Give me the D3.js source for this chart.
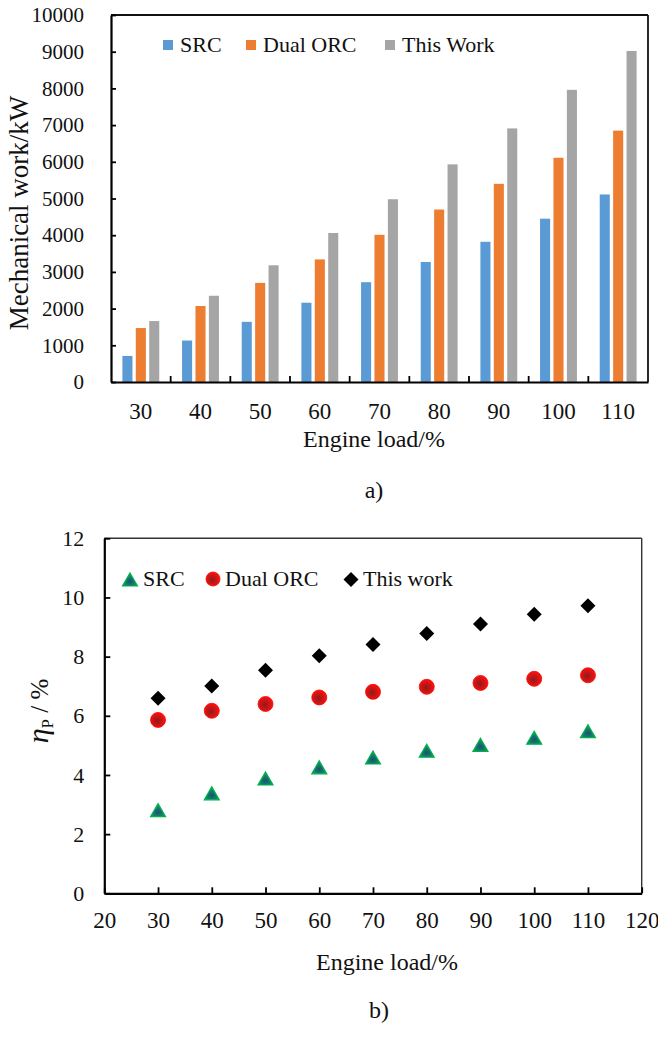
<!DOCTYPE html>
<html>
<head>
<meta charset="utf-8">
<script src="https://cdn.jsdelivr.net/npm/d3@7"></script>
<style>
  html, body { margin: 0; padding: 0; background: #fff; }
  svg { display: block; }
  svg text { font-family: "Liberation Serif", "Times New Roman", Times, serif !important; fill: #111; }
</style>
</head>
<body>
<svg id="chart" width="658" height="1040" font-family="Liberation Serif, serif"></svg>
<script>
// ---------- Data ----------
const loads = [30, 40, 50, 60, 70, 80, 90, 100, 110];
const seriesNames = ["SRC", "Dual ORC", "This Work"];
const srcWork  = [710, 1130, 1640, 2160, 2720, 3270, 3820, 4450, 5110];
const dualWork = [1470, 2070, 2700, 3340, 4010, 4700, 5400, 6110, 6850];
const thisWork = [1660, 2350, 3180, 4060, 4980, 5930, 6910, 7960, 9020];
const workTicks = [0, 1000, 2000, 3000, 4000, 5000, 6000, 7000, 8000, 9000, 10000];

const effNames = ["SRC", "Dual ORC", "This work"];
const srcEff  = [2.81, 3.38, 3.88, 4.26, 4.59, 4.82, 5.02, 5.26, 5.48];
const dualEff = [5.86, 6.17, 6.40, 6.62, 6.81, 6.98, 7.11, 7.25, 7.37];
const thisEff = [6.59, 7.01, 7.54, 8.03, 8.41, 8.78, 9.10, 9.43, 9.72];
const effTicks = [0, 2, 4, 6, 8, 10, 12];
const loadTicks = [20, 30, 40, 50, 60, 70, 80, 90, 100, 110, 120];

const barColors = ["#5B9BD5", "#ED7D31", "#A5A5A5"];
const FONT = '"Liberation Serif", "Times New Roman", Times, serif';

const svg = d3.select("#chart");
const defs = svg.append("defs");

// gradients for markers
const rg = defs.append("radialGradient").attr("id", "gRed").attr("cx", "45%").attr("cy", "55%").attr("r", "55%");
rg.append("stop").attr("offset", "0%").attr("stop-color", "#8E1B1B");
rg.append("stop").attr("offset", "100%").attr("stop-color", "#FF1010");
const gg = defs.append("radialGradient").attr("id", "gGreen").attr("cx", "50%").attr("cy", "65%").attr("r", "60%");
gg.append("stop").attr("offset", "0%").attr("stop-color", "#1F4E79");
gg.append("stop").attr("offset", "100%").attr("stop-color", "#00B050");

function styleAxisText(g, size) {
  g.attr("font-family", null).attr("font-size", null);
  g.selectAll("text").attr("font-size", size).attr("fill", "#111").style("font-family", FONT);
}

// ================= Chart a) =================
const A = { left: 111, right: 648, top: 15, bottom: 382 };
const gA = svg.append("g");

const x0 = d3.scaleBand().domain(loads).range([A.left, A.right]).paddingInner(0).paddingOuter(0);
const x1 = d3.scaleBand().domain(seriesNames).range([0, x0.bandwidth()]).paddingInner(0.25).paddingOuter(0.85);
const yA = d3.scaleLinear().domain([0, 10000]).range([A.bottom, A.top]);

const workSeries = [srcWork, dualWork, thisWork];
workSeries.forEach((vals, si) => {
  gA.append("g").selectAll("rect").data(vals).join("rect")
    .attr("x", (d, i) => x0(loads[i]) + x1(seriesNames[si]))
    .attr("y", d => yA(d))
    .attr("width", x1.bandwidth())
    .attr("height", d => yA(0) - yA(d))
    .attr("fill", barColors[si]);
});

// frame top/right
gA.append("line").attr("x1", A.left).attr("x2", A.right).attr("y1", A.top).attr("y2", A.top)
  .attr("stroke", "#111").attr("stroke-width", 1.8);
gA.append("line").attr("x1", A.right).attr("x2", A.right).attr("y1", A.top).attr("y2", A.bottom)
  .attr("stroke", "#111").attr("stroke-width", 1.8);

// y axis
const yAxisA = d3.axisLeft(yA).tickValues(workTicks).tickFormat(d3.format("d"))
  .tickSizeInner(-5).tickSizeOuter(0).tickPadding(27);
const gyA = gA.append("g").attr("transform", `translate(${A.left},0)`).call(yAxisA);
gyA.select(".domain").attr("stroke", "#000").attr("stroke-width", 2.2);
gyA.selectAll(".tick line").attr("stroke", "#000").attr("stroke-width", 1.8);
styleAxisText(gyA, 21);

// x axis (ticks between groups)
const xAxisA = d3.axisBottom(x0).tickSize(0).tickPadding(21);
const gxA = gA.append("g").attr("transform", `translate(0,${A.bottom})`).call(xAxisA);
gxA.select(".domain").attr("stroke", "#000").attr("stroke-width", 2.2);
styleAxisText(gxA, 23);
gA.append("g").selectAll("line").data(loads.slice(1)).join("line")
  .attr("x1", d => x0(d)).attr("x2", d => x0(d))
  .attr("y1", A.bottom).attr("y2", A.bottom - 6)
  .attr("stroke", "#000").attr("stroke-width", 1.8);

// axis titles
gA.append("text").attr("transform", "translate(28,213) rotate(-90)")
  .attr("text-anchor", "middle").attr("font-size", 27).text("Mechanical work/kW");
gA.append("text").attr("x", 374).attr("y", 447).attr("text-anchor", "middle")
  .attr("font-size", 24).text("Engine load/%");
gA.append("text").attr("x", 374).attr("y", 498).attr("text-anchor", "middle")
  .attr("font-size", 24).text("a)");

// legend a
const legA = [{ x: 163, tx: 180 }, { x: 246, tx: 263 }, { x: 385, tx: 402 }];
legA.forEach((p, i) => {
  gA.append("rect").attr("x", p.x).attr("y", 40).attr("width", 10).attr("height", 10).attr("fill", barColors[i]);
  gA.append("text").attr("x", p.tx).attr("y", 52).attr("font-size", 22).text(seriesNames[i]);
});

// ================= Chart b) =================
const B = { left: 104.3, right: 641.7, top: 538.3, bottom: 893.3 };
const gB = svg.append("g");
const xB = d3.scaleLinear().domain([20, 120]).range([B.left, B.right]);
const yB = d3.scaleLinear().domain([0, 12]).range([B.bottom, B.top]);

gB.append("line").attr("x1", B.left).attr("x2", B.right).attr("y1", B.top).attr("y2", B.top)
  .attr("stroke", "#333").attr("stroke-width", 1.4);
gB.append("line").attr("x1", B.right).attr("x2", B.right).attr("y1", B.top).attr("y2", B.bottom)
  .attr("stroke", "#333").attr("stroke-width", 1.4);

const gyB = gB.append("g").attr("transform", `translate(${B.left},0)`)
  .call(d3.axisLeft(yB).tickValues(effTicks).tickSizeInner(-6).tickSizeOuter(0).tickPadding(20));
gyB.select(".domain").attr("stroke", "#000").attr("stroke-width", 2.2);
gyB.selectAll(".tick line").attr("stroke", "#000").attr("stroke-width", 1.8);
styleAxisText(gyB, 22);

const gxB = gB.append("g").attr("transform", `translate(0,${B.bottom})`)
  .call(d3.axisBottom(xB).tickValues(loadTicks).tickSizeInner(-6).tickSizeOuter(0).tickPadding(18));
gxB.select(".domain").attr("stroke", "#000").attr("stroke-width", 2.2);
gxB.selectAll(".tick line").attr("stroke", "#000").attr("stroke-width", 1.8);
styleAxisText(gxB, 23);

// marker shapes (relative to center)
const triPath = "M0,-6.5L7.5,6.5L-7.5,6.5Z";
const diaPath = "M0,-7.5L7.5,0L0,7.5L-7.5,0Z";

function drawSeries(vals, kind) {
  const g = gB.append("g");
  const sel = g.selectAll("g").data(vals).join("g")
    .attr("transform", (d, i) => `translate(${xB(loads[i])},${yB(d)})`);
  if (kind === "tri") sel.append("path").attr("d", triPath).attr("fill", "url(#gGreen)").attr("stroke", "#00B050").attr("stroke-width", 1.2);
  if (kind === "circ") sel.append("circle").attr("r", 7.5).attr("fill", "url(#gRed)").attr("stroke", "#FF0000").attr("stroke-width", 0.8);
  if (kind === "dia") sel.append("path").attr("d", diaPath).attr("fill", "#000");
}
drawSeries(srcEff, "tri");
drawSeries(dualEff, "circ");
drawSeries(thisEff, "dia");

// legend b
const lb = gB.append("g");
lb.append("path").attr("transform", "translate(130,579.5)").attr("d", triPath).attr("fill", "url(#gGreen)").attr("stroke", "#00B050").attr("stroke-width", 1.2);
lb.append("text").attr("x", 143).attr("y", 586).attr("font-size", 22).text(effNames[0]);
lb.append("circle").attr("cx", 213).attr("cy", 579).attr("r", 7).attr("fill", "url(#gRed)").attr("stroke", "#FF0000").attr("stroke-width", 0.8);
lb.append("text").attr("x", 225).attr("y", 586).attr("font-size", 22).text(effNames[1]);
lb.append("path").attr("transform", "translate(351,579.5)").attr("d", diaPath).attr("fill", "#000");
lb.append("text").attr("x", 363).attr("y", 586).attr("font-size", 22).text(effNames[2]);

// axis titles b
const yt = gB.append("text").attr("transform", "translate(48,711) rotate(-90)")
  .attr("text-anchor", "middle").attr("font-size", 25);
yt.append("tspan").attr("font-style", "italic").attr("font-size", 30).text("η");
yt.append("tspan").attr("font-size", 17).attr("dy", 5).text("P");
yt.append("tspan").attr("dy", -5).text(" / %");
gB.append("text").attr("x", 387).attr("y", 970).attr("text-anchor", "middle")
  .attr("font-size", 24).text("Engine load/%");
gB.append("text").attr("x", 379).attr("y", 1018).attr("text-anchor", "middle")
  .attr("font-size", 24).text("b)");
</script>
</body>
</html>
